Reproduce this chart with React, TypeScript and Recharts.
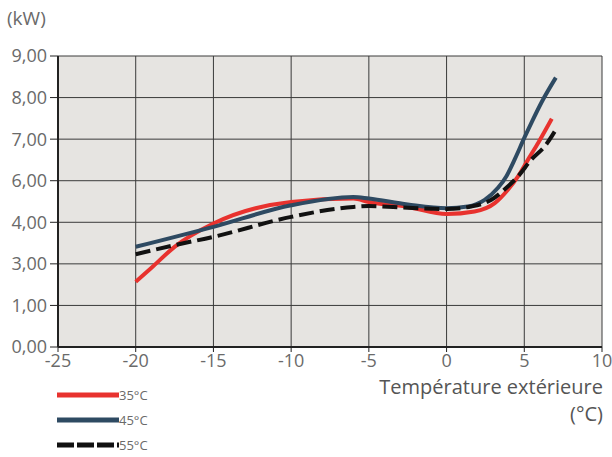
import { CartesianGrid, Line, LineChart, XAxis, YAxis } from 'recharts';

// tick labels as printed on the original (note the skipped 2,00 and 5,00)
const yLabels = [0, 1, 3, 4, 6, 7, 8, 9];
const xTicks = [-25, -20, -15, -10, -5, 0, 5, 10];

const temp35 = [-20, -19, -17.5, -15, -10, -6, -5, -2.5, 0, 1.8, 3.1, 3.96, 4.61, 5.26, 5.91, 6.77];
const kw35 = [2.14, 2.8, 3.41, 3.97, 4.98, 5.14, 4.98, 4.74, 4.4, 4.52, 4.92, 5.58, 6.11, 6.52, 6.92, 7.49];

const temp45 = [-20, -15, -10, -6, -5, -2.5, 0, 1.36, 2.45, 3.31, 3.85, 4.39, 5, 5.48, 6.13, 7.03];
const kw45 = [3.41, 3.89, 4.82, 5.22, 5.14, 4.86, 4.68, 4.76, 5.08, 5.66, 6.11, 6.52, 7.03, 7.41, 7.9, 8.48];

const temp55 = [-20, -17.5, -15, -10, -6, -5, -2.5, 0, 1.58, 2.88, 3.85, 4.61, 5.48, 6.34, 7.1];
const kw55 = [3.23, 3.45, 3.65, 4.26, 4.74, 4.78, 4.7, 4.64, 4.76, 5.08, 5.66, 6.11, 6.52, 6.84, 7.27];

// the y grid is evenly spaced over the labels above, so place kW on that index scale
const toPos = (kw: number) => {
  for (let i = 0; i < yLabels.length - 1; i++) {
    const a = yLabels[i];
    const b = yLabels[i + 1];
    if (kw <= b) return i + (kw - a) / (b - a);
  }
  return yLabels.length - 1;
};

const serie = (xs: number[], ys: number[]) =>
  xs.map((t, i) => ({ t, v: toPos(ys[i]) }));

const fmt = (n: number) => n.toFixed(2).replace('.', ',');

const font = '"Open Sans", sans-serif';
const grey = '#6a6a6a';

const legend = [
  { label: '35°C', color: '#e8322e', dash: undefined },
  { label: '45°C', color: '#2e4a62', dash: undefined },
  { label: '55°C', color: '#111111', dash: '17 3' },
];

export default function App() {
  return (
    <div
      style={{
        position: 'absolute',
        left: 0,
        top: 0,
        width: 612,
        height: 457,
        background: '#fff',
        fontFamily: font,
      }}
    >
      <div style={{ position: 'absolute', left: 7, top: 5, fontSize: 19, color: grey }}>
        (kW)
      </div>
      <LineChart
        width={612}
        height={457}
        margin={{ top: 56, right: 10, bottom: 90, left: 0 }}
      >
        <CartesianGrid fill="#e6e4e1" stroke="#3a3a3a" strokeWidth={1} />
        <XAxis
          type="number"
          dataKey="t"
          domain={[-25, 10]}
          ticks={xTicks}
          tick={{ fill: grey, fontSize: 18, fontFamily: font }}
          tickSize={5}
          tickMargin={2}
          axisLine={{ stroke: '#222', strokeWidth: 2 }}
          tickLine={{ stroke: '#222' }}
          height={20}
        />
        <YAxis
          type="number"
          domain={[0, 7]}
          ticks={[0, 1, 2, 3, 4, 5, 6, 7]}
          tickFormatter={(i: number) => fmt(yLabels[i])}
          tick={{ fill: grey, fontSize: 18, fontFamily: font }}
          tickSize={8}
          tickMargin={3}
          axisLine={{ stroke: '#222', strokeWidth: 2 }}
          tickLine={{ stroke: '#222' }}
          width={58}
        />
        <Line
          data={serie(temp35, kw35)}
          dataKey="v"
          type="monotone"
          stroke="#e8322e"
          strokeWidth={4}
          dot={false}
          isAnimationActive={false}
        />
        <Line
          data={serie(temp45, kw45)}
          dataKey="v"
          type="monotone"
          stroke="#2e4a62"
          strokeWidth={4}
          dot={false}
          isAnimationActive={false}
        />
        <Line
          data={serie(temp55, kw55)}
          dataKey="v"
          type="monotone"
          stroke="#111"
          strokeWidth={4}
          strokeDasharray="15 6"
          dot={false}
          isAnimationActive={false}
        />
      </LineChart>
      {legend.map((l, i) => (
        <div
          key={l.label}
          style={{
            position: 'absolute',
            left: 57,
            top: 386 + i * 25,
            display: 'flex',
            alignItems: 'center',
            fontSize: 13,
            color: grey,
          }}
        >
          <svg width={62} height={6}>
            <line
              x1={0}
              y1={3}
              x2={62}
              y2={3}
              stroke={l.color}
              strokeWidth={5}
              strokeDasharray={l.dash}
            />
          </svg>
          <span>{l.label}</span>
        </div>
      ))}
      <div
        style={{
          position: 'absolute',
          right: 9,
          top: 373,
          fontSize: 20,
          color: '#555',
          textAlign: 'right',
          lineHeight: '27px',
        }}
      >
        Température extérieure
        <br />
        (°C)
      </div>
    </div>
  );
}
